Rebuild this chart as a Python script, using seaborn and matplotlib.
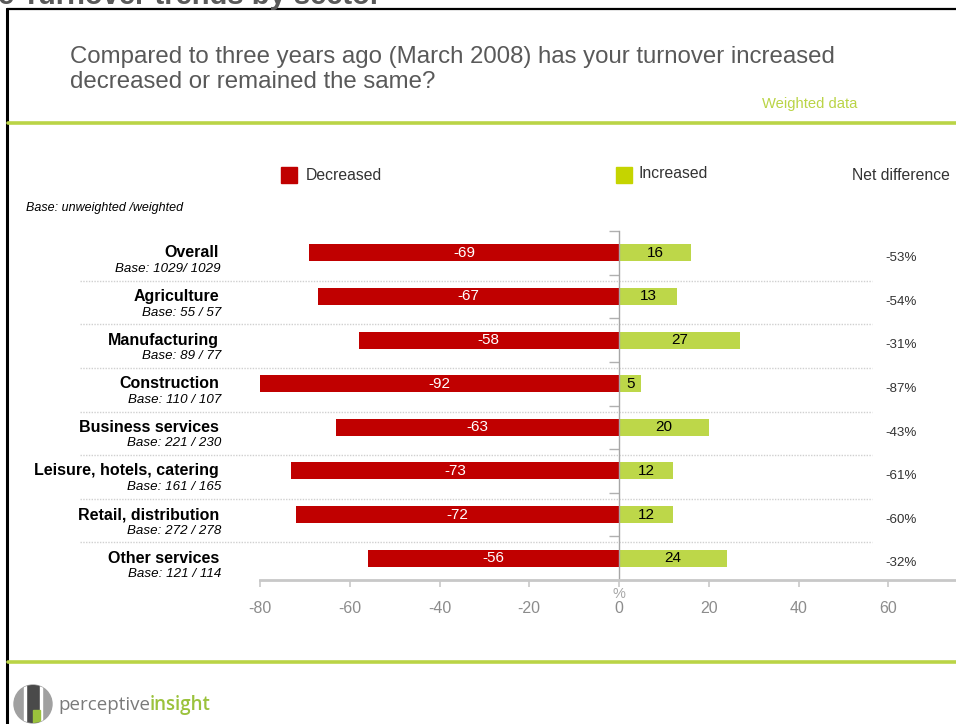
import matplotlib
matplotlib.use("Agg")
import matplotlib.pyplot as plt
import matplotlib.transforms as mtransforms
from matplotlib.patches import Rectangle, Circle
import seaborn as sns

# ---------------- data ----------------
categories = ["Overall", "Agriculture", "Manufacturing", "Construction",
              "Business services", "Leisure, hotels, catering",
              "Retail, distribution", "Other services"]
bases = ["Base: 1029/ 1029", "Base: 55 / 57", "Base: 89 / 77", "Base: 110 / 107",
         "Base: 221 / 230", "Base: 161 / 165", "Base: 272 / 278", "Base: 121 / 114"]
decreased = [-69, -67, -58, -92, -63, -73, -72, -56]
increased = [16, 13, 27, 5, 20, 12, 12, 24]
net_difference = ["-53%", "-54%", "-31%", "-87%", "-43%", "-61%", "-60%", "-32%"]
x_ticks = [-80, -60, -40, -20, 0, 20, 40, 60]

RED = "#C00000"
GREEN_BAR = "#BDD749"
GREEN_LEG = "#C5D400"
GREEN_LINE = "#BAD446"
GRAY_TXT = "#595959"
TICK_GRAY = "#8C8C8C"

sns.set_style("white")
plt.rcParams["font.family"] = ["Liberation Sans", "DejaVu Sans"]

W, H = 956, 724
fig = plt.figure(figsize=(W / 100, H / 100), dpi=100)
fig.patch.set_facecolor("white")


def fx(px):
    return px / W


def fy(py):
    return 1 - py / H


# axes: x from -80 (px 260) to right edge; y from 231 to 580 px
ax = fig.add_axes([fx(260), fy(580), fx(956 - 260), (580 - 231) / H])
ax.set_facecolor("none")

sns.barplot(x=decreased, y=categories, orient="h", color=RED, saturation=1,
            width=0.39, linewidth=0, ax=ax)
sns.barplot(x=increased, y=categories, orient="h", color=GREEN_BAR, saturation=1,
            width=0.39, linewidth=0, ax=ax)

ppu = (619 - 260) / 80.0
ax.set_xlim(-80, (956 - 619) / ppu)
ax.set_ylim(len(categories) - 0.5, -0.5)

ax.bar_label(ax.containers[0], labels=[str(v) for v in decreased],
             label_type="center", color="white", fontsize=11)
ax.bar_label(ax.containers[1], labels=[str(v) for v in increased],
             label_type="center", color="black", fontsize=11)

# spines
for s in ["top", "right"]:
    ax.spines[s].set_visible(False)
ax.spines["left"].set_position(("data", 0))
ax.spines["left"].set_color("#A6A6A6")
ax.spines["left"].set_linewidth(1.0)
ax.spines["bottom"].set_color("#C8C8C8")
ax.spines["bottom"].set_linewidth(2.0)

ax.set_yticks([i - 0.5 for i in range(len(categories) + 1)])
ax.set_yticklabels([])
ax.tick_params(axis="y", direction="out", length=7, width=1.0, color="#B0B0B0", left=True)
ax.set_ylabel("")
ax.set_xlabel("")

ax.set_xticks(x_ticks)
ax.set_xticklabels([str(t) for t in x_ticks])
ax.tick_params(axis="x", direction="out", length=5, width=1.2, color="#C8C8C8",
               bottom=True, pad=10, labelsize=11.5, labelcolor=TICK_GRAY)
for lab in ax.get_xticklabels():
    lab.set_family(["Liberation Sans Narrow", "Liberation Sans", "DejaVu Sans"])

# "%" under zero
fig.text(fx(619), fy(594), "%", ha="center", va="center", fontsize=10.5,
         color="#A6A6A6", family=["Liberation Sans Narrow", "Liberation Sans"])

# category labels and separators
tr = mtransforms.blended_transform_factory(fig.transFigure, ax.transData)
for i, (c, b, n) in enumerate(zip(categories, bases, net_difference)):
    ax.text(fx(219), i + 0.0, c, transform=tr, ha="right", va="center",
            fontsize=11.5, fontweight="bold", color="black", clip_on=False)
    ax.text(fx(221), i + 0.37, b, transform=tr, ha="right", va="center",
            fontsize=9.6, fontstyle="italic", color="black", clip_on=False)
    ax.text(fx(901), i + 0.12, n, transform=tr, ha="center", va="center",
            fontsize=9.6, color="#333333", clip_on=False)
    if i < len(categories) - 1:
        ax.plot([fx(80), fx(872)], [i + 0.64, i + 0.64], transform=tr,
                color="#D0D0D0", lw=1, ls=(0, (1, 1)), clip_on=False, zorder=0)

# ---------------- page decorations ----------------
# black frame (left + top)
fig.add_artist(plt.Line2D([fx(6.5), fx(6.5)], [fy(8.5), 0], color="black", lw=2.2,
                          transform=fig.transFigure))
fig.add_artist(plt.Line2D([fx(6.5), 1], [fy(8.5), fy(8.5)], color="black", lw=1.6,
                          transform=fig.transFigure))
# cut-off title at the very top (cut in the reference as well)
fig.text(fx(-2), fy(4), "e Turnover trends by sector", ha="left", va="baseline",
         fontsize=21, fontweight="bold", color=GRAY_TXT)

# question
fig.text(fx(70), fy(63), "Compared to three years ago (March 2008) has your turnover increased",
         ha="left", va="baseline", fontsize=17.3, color=GRAY_TXT)
fig.text(fx(70), fy(88.5), "decreased or remained the same?",
         ha="left", va="baseline", fontsize=17.3, color=GRAY_TXT)
fig.text(fx(762), fy(108), "Weighted data", ha="left", va="baseline",
         fontsize=10.6, color=GREEN_LINE)

# green rules
for yy in (122.5, 662):
    fig.add_artist(plt.Line2D([fx(8), 1], [fy(yy), fy(yy)], color=GREEN_LINE, lw=2.6,
                              transform=fig.transFigure))

# legend
fig.add_artist(Rectangle((fx(281), fy(183)), fx(16), 16 / H, color=RED,
                         transform=fig.transFigure))
fig.text(fx(306), fy(175), "Decreased", ha="left", va="center", fontsize=11.3, color="#333333")
fig.add_artist(Rectangle((fx(616), fy(183)), fx(16), 16 / H, color=GREEN_LEG,
                         transform=fig.transFigure))
fig.text(fx(639), fy(174), "Increased", ha="left", va="center", fontsize=11.3, color="#333333")
fig.text(fx(852), fy(176), "Net difference", ha="left", va="center", fontsize=11.3, color="#333333")

fig.text(fx(26), fy(208), "Base: unweighted /weighted", ha="left", va="center",
         fontsize=9, fontstyle="italic", color="black")

# logo
lax = fig.add_axes([fx(12), 0, fx(44), 44 / H])
lax.set_xlim(0, 44)
lax.set_ylim(0, 44)
lax.set_aspect("equal")
lax.axis("off")
circ = Circle((21, 20), 19, color="#A0A0A0")
lax.add_patch(circ)
for r in [Rectangle((14, 0), 14, 44, color="#4A4A4A"),
          Rectangle((12, 0), 2, 44, color="white"),
          Rectangle((28, 0), 2, 44, color="white"),
          Rectangle((21, 0), 7, 14, color="#9BC23C")]:
    lax.add_patch(r)
    r.set_clip_path(circ)

t1 = fig.text(fx(58), fy(705), "perceptive", ha="left", va="center", fontsize=13.5,
              color="#7A7A7A", family=["Open Sans", "DejaVu Sans"])
fig.canvas.draw()
bb = t1.get_window_extent()
fig.text(bb.x1 / W, fy(705), "insight", ha="left", va="center", fontsize=13.5,
         color="#9BC23C", fontweight="semibold", family=["Open Sans", "DejaVu Sans"])

fig.savefig("out.png", dpi=100)
